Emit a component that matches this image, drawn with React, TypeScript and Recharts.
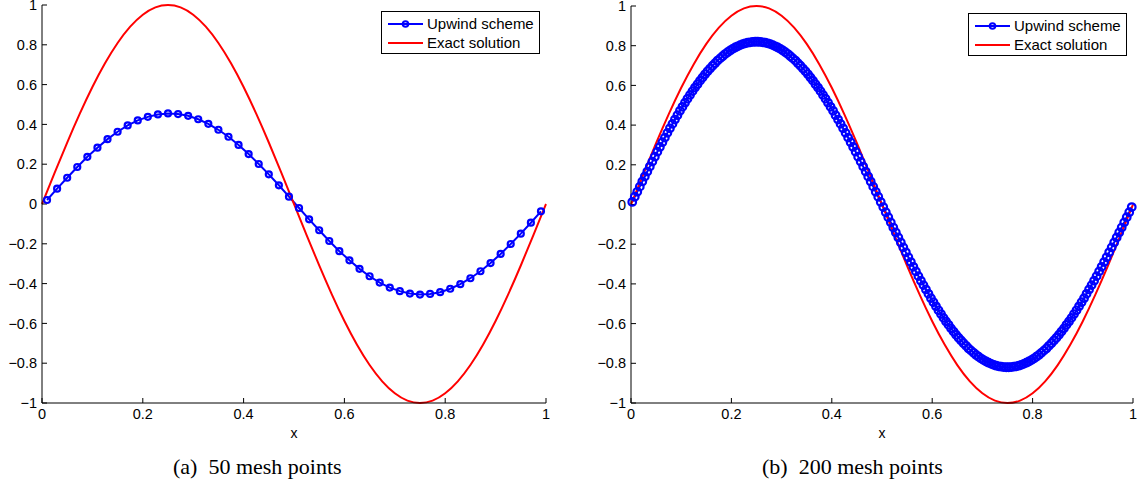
import React from "react"
import { Legend, Line, LineChart, XAxis, YAxis } from "recharts"

// 50 mesh points (cell centres) and the upwind result
const meshX50 = [
  0.01, 0.03, 0.05, 0.07, 0.09, 0.11, 0.13, 0.15, 0.17, 0.19,
  0.21, 0.23, 0.25, 0.27, 0.29, 0.31, 0.33, 0.35, 0.37, 0.39,
  0.41, 0.43, 0.45, 0.47, 0.49, 0.51, 0.53, 0.55, 0.57, 0.59,
  0.61, 0.63, 0.65, 0.67, 0.69, 0.71, 0.73, 0.75, 0.77, 0.79,
  0.81, 0.83, 0.85, 0.87, 0.89, 0.91, 0.93, 0.95, 0.97, 0.99,
]
const upwind50 = [
  0.02, 0.077, 0.132, 0.186, 0.237, 0.283, 0.326, 0.363, 0.395, 0.42,
  0.438, 0.45, 0.455, 0.452, 0.443, 0.426, 0.403, 0.373, 0.338, 0.297,
  0.251, 0.201, 0.149, 0.094, 0.037, -0.02, -0.077, -0.132, -0.186, -0.237,
  -0.283, -0.326, -0.363, -0.395, -0.42, -0.438, -0.45, -0.455, -0.452, -0.443,
  -0.426, -0.403, -0.373, -0.338, -0.297, -0.251, -0.201, -0.149, -0.094, -0.037,
]

// 200 mesh points and the upwind result
const meshX200 = [
  0.0025, 0.0075, 0.0125, 0.0175, 0.0225, 0.0275, 0.0325, 0.0375, 0.0425, 0.0475,
  0.0525, 0.0575, 0.0625, 0.0675, 0.0725, 0.0775, 0.0825, 0.0875, 0.0925, 0.0975,
  0.1025, 0.1075, 0.1125, 0.1175, 0.1225, 0.1275, 0.1325, 0.1375, 0.1425, 0.1475,
  0.1525, 0.1575, 0.1625, 0.1675, 0.1725, 0.1775, 0.1825, 0.1875, 0.1925, 0.1975,
  0.2025, 0.2075, 0.2125, 0.2175, 0.2225, 0.2275, 0.2325, 0.2375, 0.2425, 0.2475,
  0.2525, 0.2575, 0.2625, 0.2675, 0.2725, 0.2775, 0.2825, 0.2875, 0.2925, 0.2975,
  0.3025, 0.3075, 0.3125, 0.3175, 0.3225, 0.3275, 0.3325, 0.3375, 0.3425, 0.3475,
  0.3525, 0.3575, 0.3625, 0.3675, 0.3725, 0.3775, 0.3825, 0.3875, 0.3925, 0.3975,
  0.4025, 0.4075, 0.4125, 0.4175, 0.4225, 0.4275, 0.4325, 0.4375, 0.4425, 0.4475,
  0.4525, 0.4575, 0.4625, 0.4675, 0.4725, 0.4775, 0.4825, 0.4875, 0.4925, 0.4975,
  0.5025, 0.5075, 0.5125, 0.5175, 0.5225, 0.5275, 0.5325, 0.5375, 0.5425, 0.5475,
  0.5525, 0.5575, 0.5625, 0.5675, 0.5725, 0.5775, 0.5825, 0.5875, 0.5925, 0.5975,
  0.6025, 0.6075, 0.6125, 0.6175, 0.6225, 0.6275, 0.6325, 0.6375, 0.6425, 0.6475,
  0.6525, 0.6575, 0.6625, 0.6675, 0.6725, 0.6775, 0.6825, 0.6875, 0.6925, 0.6975,
  0.7025, 0.7075, 0.7125, 0.7175, 0.7225, 0.7275, 0.7325, 0.7375, 0.7425, 0.7475,
  0.7525, 0.7575, 0.7625, 0.7675, 0.7725, 0.7775, 0.7825, 0.7875, 0.7925, 0.7975,
  0.8025, 0.8075, 0.8125, 0.8175, 0.8225, 0.8275, 0.8325, 0.8375, 0.8425, 0.8475,
  0.8525, 0.8575, 0.8625, 0.8675, 0.8725, 0.8775, 0.8825, 0.8875, 0.8925, 0.8975,
  0.9025, 0.9075, 0.9125, 0.9175, 0.9225, 0.9275, 0.9325, 0.9375, 0.9425, 0.9475,
  0.9525, 0.9575, 0.9625, 0.9675, 0.9725, 0.9775, 0.9825, 0.9875, 0.9925, 0.9975,
]
const upwind200 = [
  0.013, 0.039, 0.064, 0.09, 0.116, 0.141, 0.166, 0.191, 0.216, 0.241,
  0.266, 0.29, 0.314, 0.337, 0.361, 0.384, 0.406, 0.428, 0.45, 0.472,
  0.492, 0.513, 0.533, 0.552, 0.571, 0.589, 0.606, 0.624, 0.64, 0.656,
  0.671, 0.685, 0.699, 0.712, 0.725, 0.736, 0.747, 0.758, 0.767, 0.776,
  0.784, 0.791, 0.797, 0.803, 0.808, 0.812, 0.815, 0.817, 0.819, 0.82,
  0.82, 0.819, 0.817, 0.815, 0.812, 0.808, 0.803, 0.797, 0.791, 0.784,
  0.776, 0.767, 0.758, 0.747, 0.736, 0.725, 0.712, 0.699, 0.685, 0.671,
  0.656, 0.64, 0.624, 0.606, 0.589, 0.571, 0.552, 0.533, 0.513, 0.492,
  0.472, 0.45, 0.428, 0.406, 0.384, 0.361, 0.337, 0.314, 0.29, 0.266,
  0.241, 0.216, 0.191, 0.166, 0.141, 0.116, 0.09, 0.064, 0.039, 0.013,
  -0.013, -0.039, -0.064, -0.09, -0.116, -0.141, -0.166, -0.191, -0.216, -0.241,
  -0.266, -0.29, -0.314, -0.337, -0.361, -0.384, -0.406, -0.428, -0.45, -0.472,
  -0.492, -0.513, -0.533, -0.552, -0.571, -0.589, -0.606, -0.624, -0.64, -0.656,
  -0.671, -0.685, -0.699, -0.712, -0.725, -0.736, -0.747, -0.758, -0.767, -0.776,
  -0.784, -0.791, -0.797, -0.803, -0.808, -0.812, -0.815, -0.817, -0.819, -0.82,
  -0.82, -0.819, -0.817, -0.815, -0.812, -0.808, -0.803, -0.797, -0.791, -0.784,
  -0.776, -0.767, -0.758, -0.747, -0.736, -0.725, -0.712, -0.699, -0.685, -0.671,
  -0.656, -0.64, -0.624, -0.606, -0.589, -0.571, -0.552, -0.533, -0.513, -0.492,
  -0.472, -0.45, -0.428, -0.406, -0.384, -0.361, -0.337, -0.314, -0.29, -0.266,
  -0.241, -0.216, -0.191, -0.166, -0.141, -0.116, -0.09, -0.064, -0.039, -0.013,
]

// exact solution, sampled for the red curve
const exactX = [
  0, 0.025, 0.05, 0.075, 0.1, 0.125, 0.15, 0.175, 0.2, 0.225,
  0.25, 0.275, 0.3, 0.325, 0.35, 0.375, 0.4, 0.425, 0.45, 0.475,
  0.5, 0.525, 0.55, 0.575, 0.6, 0.625, 0.65, 0.675, 0.7, 0.725,
  0.75, 0.775, 0.8, 0.825, 0.85, 0.875, 0.9, 0.925, 0.95, 0.975, 1,
]
const exactY = [
  0, 0.156, 0.309, 0.454, 0.588, 0.707, 0.809, 0.891, 0.951, 0.988,
  1, 0.988, 0.951, 0.891, 0.809, 0.707, 0.588, 0.454, 0.309, 0.156,
  0, -0.156, -0.309, -0.454, -0.588, -0.707, -0.809, -0.891, -0.951, -0.988,
  -1, -0.988, -0.951, -0.891, -0.809, -0.707, -0.588, -0.454, -0.309, -0.156, 0,
]

const seriesNames = ["Upwind scheme", "Exact solution"]
const xTicks = [0, 0.2, 0.4, 0.6, 0.8, 1]
const yTicks = [-1, -0.8, -0.6, -0.4, -0.2, 0, 0.2, 0.4, 0.6, 0.8, 1]

const SANS = "'Liberation Sans', Arial, Helvetica, sans-serif"
const SERIF = "'Liberation Serif', 'Times New Roman', serif"

const zip = (xs: number[], ys: number[]) => xs.map((x, i) => ({ x, y: ys[i] }))
const exactData = zip(exactX, exactY)

const fmt = (v: number) => (v < 0 ? "\u2212" + String(-v) : String(v))

const tickStyle = { fill: "#000", fontSize: 14.5, fontFamily: SANS }

function LegendBox(props: any) {
  const items = [...(props.payload || [])].sort(
    (a: any, b: any) => seriesNames.indexOf(a.value) - seriesNames.indexOf(b.value)
  )
  return (
    <div
      style={{
        border: "1px solid #000",
        background: "#fff",
        padding: "2px 5px 1px 6px",
        fontFamily: SANS,
        fontSize: 15,
        lineHeight: "19px",
        color: "#000",
      }}
    >
      {items.map((entry: any) => (
        <div key={entry.value} style={{ display: "flex", alignItems: "center", whiteSpace: "nowrap" }}>
          <svg width={35} height={12} style={{ marginRight: 4 }}>
            <line x1={0} y1={6} x2={35} y2={6} stroke={entry.color} strokeWidth={2} />
            {entry.type === "line" && (
              <circle cx={17.5} cy={6} r={2.8} fill="none" stroke={entry.color} strokeWidth={2} />
            )}
          </svg>
          <span>{entry.value}</span>
        </div>
      ))}
    </div>
  )
}

type PanelProps = {
  data: { x: number; y: number }[]
  width: number
  top: number
  right: number
  legendLeft: number
  legendTop: number
  dotR: number
}

function Panel({ data, width, top, right, legendLeft, legendTop, dotR }: PanelProps) {
  return (
    <LineChart width={width} height={443} margin={{ top, right, left: 0, bottom: 0 }}>
      <XAxis
        dataKey="x"
        type="number"
        domain={[0, 1]}
        ticks={xTicks}
        interval={0}
        height={40}
        tickSize={-5}
        tickMargin={11}
        tick={tickStyle}
        stroke="#000"
        label={{ value: "x", position: "insideBottom", offset: 5, fill: "#000", fontSize: 14, fontFamily: SANS }}
      />
      <XAxis xAxisId="top" orientation="top" type="number" domain={[0, 1]} ticks={xTicks} interval={0} height={0} tickSize={-5} tick={false} stroke="#000" />
      <YAxis
        type="number"
        domain={[-1, 1]}
        ticks={yTicks}
        interval={0}
        width={42}
        tickSize={-5}
        tickMargin={10}
        tickFormatter={fmt}
        tick={tickStyle}
        stroke="#000"
      />
      <YAxis yAxisId="right" orientation="right" type="number" domain={[-1, 1]} ticks={yTicks} interval={0} width={0} tickSize={-5} tick={false} stroke="#000" />
      <Legend
        layout="horizontal"
        verticalAlign="middle"
        align="center"
        content={<LegendBox />}
        wrapperStyle={{ left: legendLeft, top: legendTop, width: "auto" }}
      />
      <Line
        data={data}
        dataKey="y"
        name={seriesNames[0]}
        legendType="line"
        type="linear"
        stroke="#0000ff"
        strokeWidth={2}
        dot={{ r: dotR, stroke: "#0000ff", strokeWidth: 2.2, fill: "none" }}
        isAnimationActive={false}
      />
      <Line
        data={exactData}
        dataKey="y"
        name={seriesNames[1]}
        legendType="plainline"
        type="natural"
        stroke="#ff0000"
        strokeWidth={2}
        dot={false}
        isAnimationActive={false}
      />
    </LineChart>
  )
}

const captionStyle: React.CSSProperties = {
  position: "absolute",
  top: 454,
  fontFamily: SERIF,
  fontSize: 22,
  lineHeight: "26px",
  color: "#000",
  whiteSpace: "pre",
}

export default function App() {
  return (
    <div style={{ position: "absolute", left: 0, top: 0, width: 1143, height: 489, background: "#fff" }}>
      <div style={{ position: "absolute", left: 0, top: 0 }}>
        <Panel data={zip(meshX50, upwind50)} width={570} top={5} right={24} legendLeft={381} legendTop={11} dotR={3} />
      </div>
      <div style={{ position: "absolute", left: 589, top: 0 }}>
        <Panel data={zip(meshX200, upwind200)} width={554} top={6} right={10} legendLeft={379} legendTop={13} dotR={3.8} />
      </div>
      <div style={{ ...captionStyle, left: 173 }}>(a)  50 mesh points</div>
      <div style={{ ...captionStyle, left: 762 }}>(b)  200 mesh points</div>
    </div>
  )
}
